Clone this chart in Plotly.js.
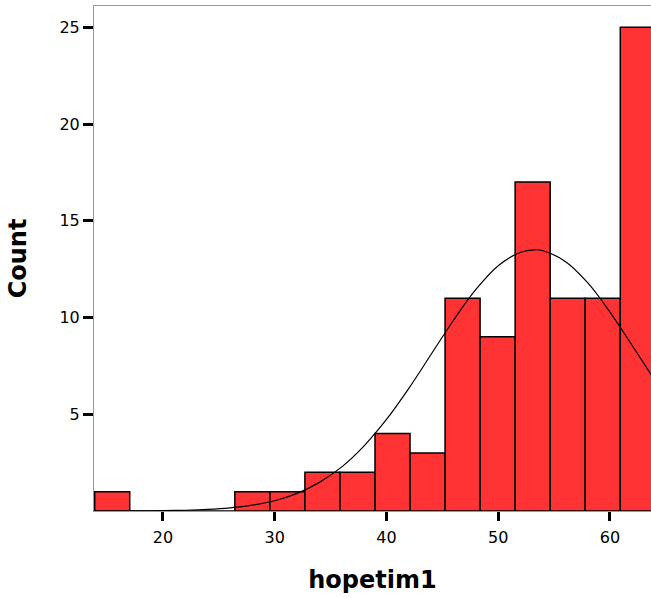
<!DOCTYPE html>
<html><head><meta charset="utf-8">
<script src="https://cdn.plot.ly/plotly-3.0.1.min.js"></script>
<style>html,body{margin:0;padding:0;background:#fff}</style>
</head><body>
<div id="chart" style="width:651px;height:598px"></div>
<script>
const binCenters = [15.46, 18.60, 21.73, 24.87, 28.00, 31.14, 34.27, 37.41, 40.54, 43.68, 46.81, 49.95, 53.08, 56.22, 59.35, 62.49];
const binCounts  = [1, 0, 0, 0, 1, 1, 2, 2, 4, 3, 11, 9, 17, 11, 11, 25];
const binWidth = 3.135;
const curveX = [14, 16, 18, 20, 22, 24, 26, 28, 30, 32, 34, 36, 38, 40, 42, 44, 46, 48, 50, 52, 53.25, 54, 56, 58, 60, 62, 64];
const curveY = [0.00, 0.00, 0.01, 0.02, 0.04, 0.08, 0.16, 0.30, 0.53, 0.91, 1.48, 2.28, 3.37, 4.73, 6.34, 8.10, 9.86, 11.45, 12.68, 13.37, 13.50, 13.45, 12.90, 11.80, 10.28, 8.54, 6.77];
const xTicks = [20, 30, 40, 50, 60];
const yTicks = [5, 10, 15, 20, 25];

const bars = {
  type: 'bar',
  x: binCenters,
  y: binCounts,
  width: binCenters.map(() => binWidth),
  marker: {color: '#FF3333', line: {color: '#000000', width: 1.5}},
  hoverinfo: 'x+y'
};
const curve = {
  type: 'scatter',
  mode: 'lines',
  x: curveX,
  y: curveY,
  line: {color: '#000000', width: 1.2, shape: 'spline'},
  hoverinfo: 'skip'
};
const tickFont = {family: 'DejaVu Sans, Arial, sans-serif', size: 16, color: '#000'};
const titleFont = {family: 'DejaVu Sans, Arial, sans-serif', size: 24, color: '#000', weight: 'bold'};
const layout = {
  width: 651, height: 598,
  margin: {l: 94, r: 0, t: 6, b: 87},
  paper_bgcolor: '#fff', plot_bgcolor: '#fff',
  showlegend: false,
  bargap: 0,
  xaxis: {
    range: [13.83, 63.67],
    tickvals: xTicks, ticktext: xTicks.map(String),
    ticks: 'outside', ticklen: 9, tickwidth: 3, tickcolor: '#000',
    ticklabelstandoff: 3,
    showline: true, linecolor: '#999', linewidth: 1, mirror: true,
    showgrid: false, zeroline: false,
    tickfont: tickFont,
    title: {text: 'hopetim1', font: titleFont, standoff: 24}
  },
  yaxis: {
    range: [0, 26.1],
    tickvals: yTicks, ticktext: yTicks.map(String),
    ticks: 'outside', ticklen: 10, tickwidth: 3, tickcolor: '#000',
    showline: true, linecolor: '#999', linewidth: 1, mirror: false,
    showgrid: false, zeroline: false,
    tickfont: tickFont,
    title: {text: 'Count', font: titleFont, standoff: 26}
  }
};
Plotly.newPlot('chart', [bars, curve], layout, {displayModeBar: false, staticPlot: true});
</script>
</body></html>
